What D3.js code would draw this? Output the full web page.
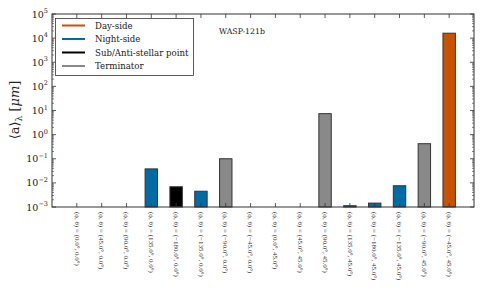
<!DOCTYPE html>
<html><head><meta charset="utf-8">
<script src="https://cdn.jsdelivr.net/npm/d3@7"></script>
<style>body{margin:0;background:#fff}svg{display:block}text{font-family:"DejaVu Serif","Liberation Serif",serif}</style>
</head><body><svg id="c" width="483" height="290"></svg>
<script>
const phi   = ["0.0","45.0","90.0","135.0","−180.0","−135.0","−90.0","−45.0","0.0","45.0","90.0","135.0","−180.0","−135.0","−90.0","−45.0"];
const theta = ["0.0","0.0","0.0","0.0","0.0","0.0","0.0","0.0","45.0","45.0","45.0","45.0","45.0","45.0","45.0","45.0"];
const values = [null,null,null,0.038,0.0069,0.0045,0.1,null,null,null,7.4,0.00113,0.00145,0.0076,0.42,16000];
const groups = ["Terminator","Terminator","Terminator","Night-side","Sub/Anti-stellar point","Night-side","Terminator","Terminator","Terminator","Terminator","Terminator","Night-side","Night-side","Night-side","Terminator","Day-side"];
const legendNames = ["Day-side","Night-side","Sub/Anti-stellar point","Terminator"];
const legendColors = ["#C85200","#006BA4","#000000","#898989"];
const yDecades = [-3,-2,-1,0,1,2,3,4,5];

const svg = d3.select("#c");
const L=52,R=474,T=14,B=207;
const x = d3.scaleLinear().domain([-1,16]).range([L,R]);
const y = d3.scaleLog().domain([1e-3,1e5]).range([B,T]);
const color = d3.scaleOrdinal().domain(legendNames).range(legendColors);
const axisCol="#333";

svg.append("g").selectAll("rect").data(values.map((v,i)=>({v,i})).filter(d=>d.v!=null))
  .join("rect")
  .attr("x",d=>x(d.i-0.25)).attr("width",x(0.5)-x(0))
  .attr("y",d=>y(d.v)).attr("height",d=>y(1e-3)-y(d.v))
  .attr("fill",d=>color(groups[d.i])).attr("stroke","#333").attr("stroke-width",1);

svg.append("rect").attr("x",L).attr("y",T).attr("width",R-L).attr("height",B-T)
  .attr("fill","none").attr("stroke",axisCol).attr("stroke-width",1);

const g = svg.append("g").attr("stroke",axisCol).attr("stroke-width",0.8);
d3.range(values.length).forEach(i=>{
  g.append("line").attr("x1",x(i)).attr("x2",x(i)).attr("y1",B).attr("y2",B-4);
  g.append("line").attr("x1",x(i)).attr("x2",x(i)).attr("y1",T).attr("y2",T+4);
});
yDecades.forEach((e,k)=>{
  const yy=y(Math.pow(10,e));
  g.append("line").attr("x1",L).attr("x2",L+4).attr("y1",yy).attr("y2",yy);
  g.append("line").attr("x1",R).attr("x2",R-4).attr("y1",yy).attr("y2",yy);
  if(k<yDecades.length-1){
    for(let m=2;m<10;m++){
      const ym=y(m*Math.pow(10,e));
      g.append("line").attr("x1",L).attr("x2",L+2).attr("y1",ym).attr("y2",ym).attr("stroke-width",0.6);
      g.append("line").attr("x1",R).attr("x2",R-2).attr("y1",ym).attr("y2",ym).attr("stroke-width",0.6);
    }
  }
  const t=svg.append("text").attr("x",L-4).attr("y",y(Math.pow(10,e))+3.5)
    .attr("text-anchor","end").attr("font-size",9.5).attr("fill","#222");
  t.append("tspan").text("10");
  t.append("tspan").attr("font-size",6.5).attr("dy",-4.5).text(e<0?"−"+(-e):String(e));
});

d3.range(values.length).forEach(i=>{
  svg.append("text").attr("transform",`translate(${x(i)-2.3},212) rotate(90)`)
    .style("font-family","'Liberation Serif',serif")
    .attr("font-size",7).attr("fill","#333").attr("text-anchor","start")
    .text(`(ϕ, θ) = (${phi[i]}°, ${theta[i]}°)`);
});

const yl=svg.append("text").attr("transform","translate(19,110) rotate(-90)")
  .attr("text-anchor","middle").attr("font-size",13).attr("fill","#222");
yl.append("tspan").text("⟨a⟩");
yl.append("tspan").attr("font-size",9).attr("dy",3).text("λ");
yl.append("tspan").attr("dy",-3).text(" [");
yl.append("tspan").attr("font-style","italic").text("μm");
yl.append("tspan").text("]");

svg.append("text").attr("x",242).attr("y",34).attr("text-anchor","middle")
  .attr("font-size",7.8).attr("fill","#222").text("WASP-121b");

svg.append("rect").attr("x",55.5).attr("y",18.5).attr("width",138).attr("height",57)
  .attr("fill","#fff").attr("stroke","#333").attr("stroke-width",0.8);
legendNames.forEach((n,k)=>{
  const yy=25.5+k*13.5;
  svg.append("line").attr("x1",62).attr("x2",85).attr("y1",yy).attr("y2",yy)
    .attr("stroke",legendColors[k]).attr("stroke-width",2);
  svg.append("text").attr("x",95).attr("y",yy+3).attr("font-size",8.6).attr("fill","#222").text(n);
});
</script></body></html>
